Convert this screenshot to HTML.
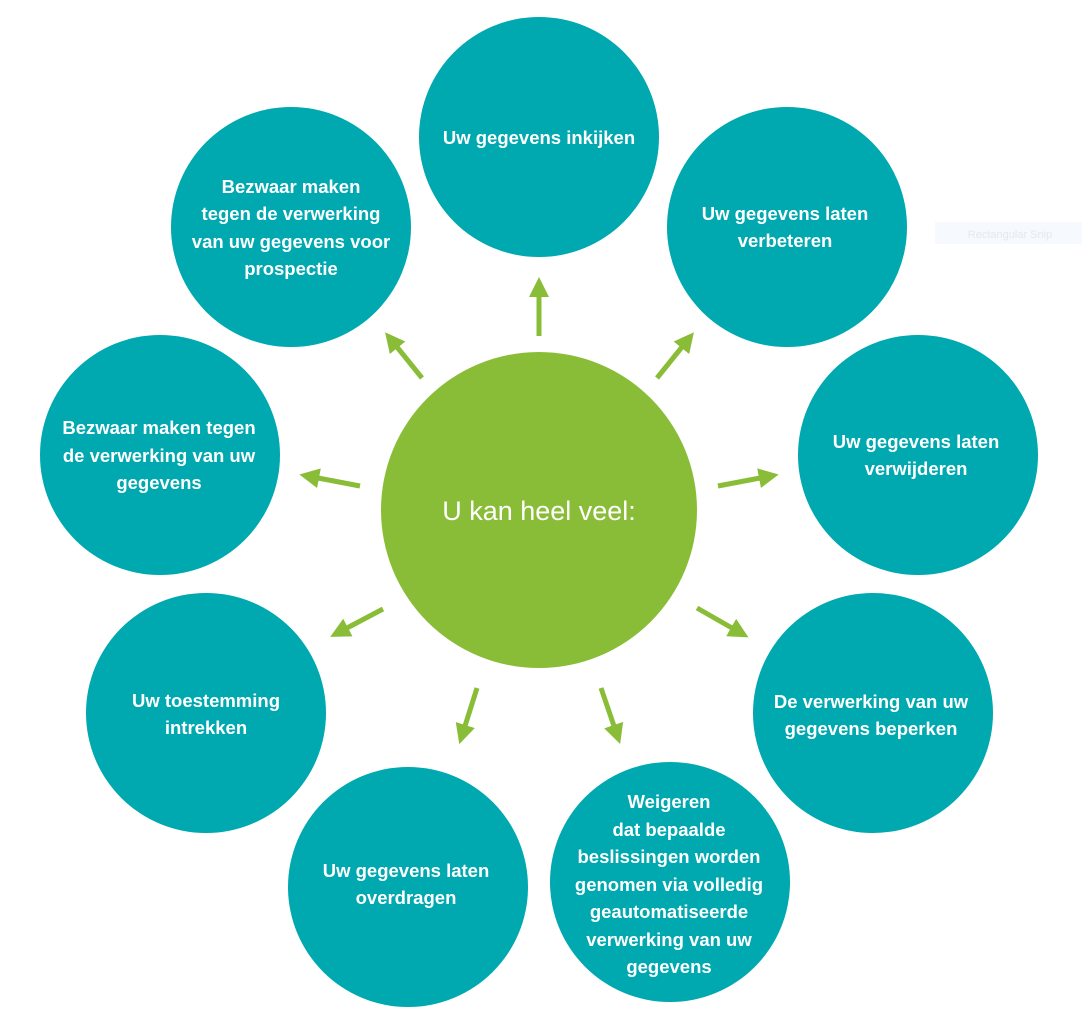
<!DOCTYPE html>
<html><head><meta charset="utf-8"><style>
html,body{margin:0;padding:0;background:#fff;}
svg{display:block}
text{font-family:"Liberation Sans",sans-serif;fill:#fff;font-size:18.5px;font-weight:bold;text-anchor:middle;}
</style></head><body>
<svg width="1083" height="1031" viewBox="0 0 1083 1031" xmlns="http://www.w3.org/2000/svg">
<defs>
<marker id="ah" markerWidth="4" markerHeight="4" refX="0.2" refY="2" orient="auto" markerUnits="strokeWidth">
<path d="M0,0 L4,2 L0,4 Z" fill="#8abd37"/>
</marker>
</defs>
<rect x="935" y="222" width="147" height="22" fill="#f6f9fd"/>
<text x="1010" y="238" style="fill:#e4e9f0;font-size:11px;font-weight:normal">Rectangular Snip</text>
<g fill="#00a8b0">
<circle cx="539" cy="137" r="120"/>
<circle cx="787" cy="227" r="120"/>
<circle cx="918" cy="455" r="120"/>
<circle cx="873" cy="713" r="120"/>
<circle cx="670" cy="882" r="120"/>
<circle cx="408" cy="887" r="120"/>
<circle cx="206" cy="713" r="120"/>
<circle cx="160" cy="455" r="120"/>
<circle cx="291" cy="227" r="120"/>
</g>
<circle cx="539" cy="510" r="158" fill="#8abd37"/>
<g stroke="#8abd37" stroke-width="5" marker-end="url(#ah)">
<line x1="539" y1="336" x2="539" y2="296"/>
<line x1="657" y1="378" x2="682" y2="347"/>
<line x1="718" y1="486" x2="760" y2="478"/>
<line x1="697" y1="608" x2="732" y2="628"/>
<line x1="601" y1="688" x2="614" y2="726"/>
<line x1="477" y1="688" x2="465" y2="726"/>
<line x1="383" y1="609" x2="347" y2="628"/>
<line x1="360" y1="486" x2="318" y2="478"/>
<line x1="422" y1="378" x2="397" y2="347"/>
</g>
<text x="539" y="144">Uw gegevens inkijken</text>
<text x="785" y="220">Uw gegevens laten</text>
<text x="785" y="247">verbeteren</text>
<text x="916" y="448">Uw gegevens laten</text>
<text x="916" y="475">verwijderen</text>
<text x="871" y="708">De verwerking van uw</text>
<text x="871" y="735">gegevens beperken</text>
<text x="669" y="808">Weigeren</text>
<text x="669" y="836">dat bepaalde</text>
<text x="669" y="863">beslissingen worden</text>
<text x="669" y="891">genomen via volledig</text>
<text x="669" y="918">geautomatiseerde</text>
<text x="669" y="946">verwerking van uw</text>
<text x="669" y="973">gegevens</text>
<text x="406" y="877">Uw gegevens laten</text>
<text x="406" y="904">overdragen</text>
<text x="206" y="707">Uw toestemming</text>
<text x="206" y="734">intrekken</text>
<text x="159" y="434">Bezwaar maken tegen</text>
<text x="159" y="462">de verwerking van uw</text>
<text x="159" y="489">gegevens</text>
<text x="291" y="193">Bezwaar maken</text>
<text x="291" y="220">tegen de verwerking</text>
<text x="291" y="248">van uw gegevens voor</text>
<text x="291" y="275">prospectie</text>
<text x="539" y="520" style="font-size:27px;font-weight:normal">U kan heel veel:</text>
</svg>
</body></html>
